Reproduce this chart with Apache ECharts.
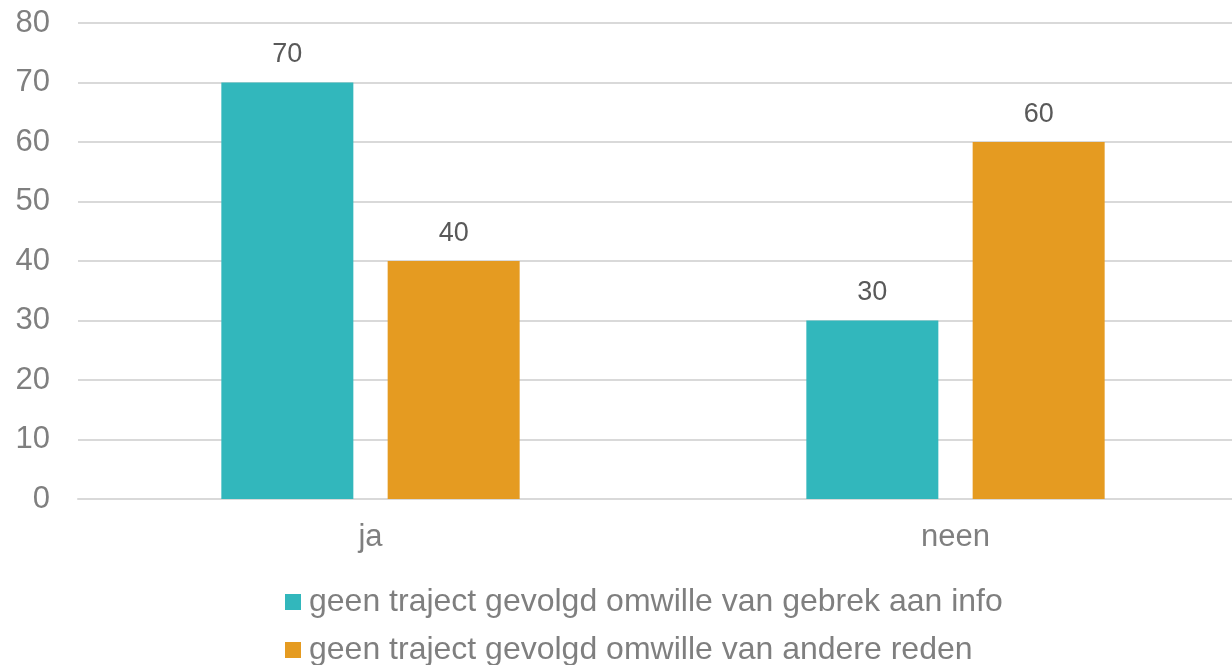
<!DOCTYPE html>
<html>
<head>
<meta charset="utf-8">
<script src="https://cdn.jsdelivr.net/npm/echarts@6/dist/echarts.min.js"></script>
<style>
  html, body { margin: 0; padding: 0; background: #fff; }
  #chart { width: 1232px; height: 665px; }
</style>
</head>
<body>
<div id="chart"></div>
<script>
// categories and series
var categories = ['ja', 'neen']
var infoValues = [70, 30]
var otherValues = [40, 60]
var seriesNames = [
  'geen traject gevolgd omwille van gebrek aan info',
  'geen traject gevolgd omwille van andere reden'
]

var myChart = echarts.init(document.getElementById('chart'))
var labelStyle = {
  show: true,
  position: 'top',
  distance: 14,
  color: '#595959',
  fontSize: 27,
  fontFamily: 'Liberation Sans, Arial, sans-serif'
}
// one legend per row, the original stacks them
function legendRow(name, top) {
  return {
    left: 280,
    top: top,
    itemWidth: 16,
    itemHeight: 16,
    itemGap: 0,
    icon: 'rect',
    textStyle: { color: '#7f7f7f', fontSize: 32, padding: [0, 0, 0, 3] },
    data: [name]
  }
}
var option = {
  animation: false,
  color: ['#32B7BC', '#E59B21'],
  textStyle: { fontFamily: 'Liberation Sans, Arial, sans-serif' },
  legend: [legendRow(seriesNames[0], 581), legendRow(seriesNames[1], 629)],
  grid: {
    left: 78,
    width: 1170,
    top: 23,
    bottom: 166,
    outerBoundsMode: 'none'
  },
  xAxis: {
    type: 'category',
    data: categories,
    axisTick: { show: false },
    axisLine: { lineStyle: { color: '#d9d9d9', width: 2 } },
    axisLabel: { color: '#7f7f7f', fontSize: 31, margin: 23 }
  },
  yAxis: {
    type: 'value',
    min: 0,
    max: 80,
    interval: 10,
    axisLine: { show: false },
    axisTick: { show: false },
    splitLine: { lineStyle: { color: '#d9d9d9', width: 2 } },
    axisLabel: { color: '#7f7f7f', fontSize: 31, margin: 28 }
  },
  series: [
    {
      name: seriesNames[0],
      type: 'bar',
      data: infoValues,
      barWidth: 132,
      barGap: '26%',
      label: labelStyle
    },
    {
      name: seriesNames[1],
      type: 'bar',
      data: otherValues,
      barWidth: 132,
      barGap: '26%',
      label: labelStyle
    }
  ]
}
myChart.setOption(option)
window.addEventListener('resize', function() {
  myChart.resize()
})
</script>
</body>
</html>
